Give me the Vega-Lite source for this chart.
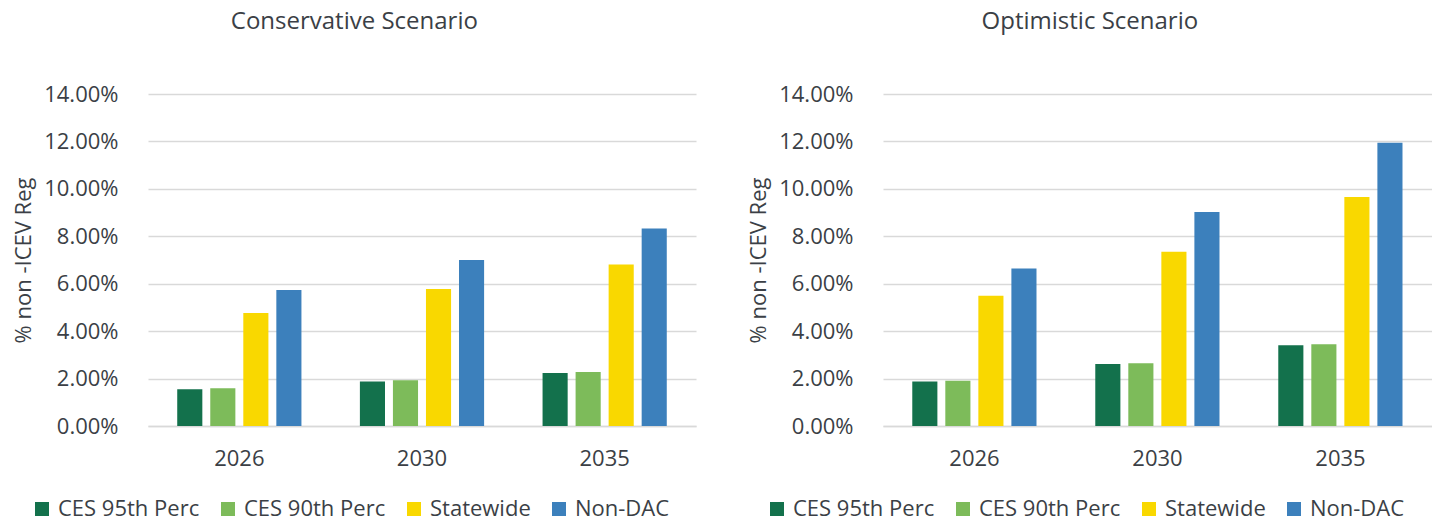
{
  "$schema": "https://vega.github.io/schema/vega-lite/v6.json",
  "padding": {"left": 12, "top": 10, "right": 0, "bottom": 0},
  "background": "white",
  "config": {
    "font": "Open Sans",
    "view": {"stroke": null},
    "axis": {"labelColor": "#3b3f46", "titleColor": "#3b3f46", "labelFont": "Open Sans", "titleFont": "Open Sans"},
    "title": {"color": "#3b3f46", "font": "Open Sans"},
    "legend": {"labelColor": "#3b3f46", "labelFont": "Open Sans", "padding": 0}
  },
  "datasets": {
    "d": [
      {"scenario": "Conservative", "year": "2026", "group": "CES 95th Perc", "value": 0.0155},
      {"scenario": "Conservative", "year": "2026", "group": "CES 90th Perc", "value": 0.0159},
      {"scenario": "Conservative", "year": "2026", "group": "Statewide", "value": 0.0477},
      {"scenario": "Conservative", "year": "2026", "group": "Non-DAC", "value": 0.0574},
      {"scenario": "Conservative", "year": "2030", "group": "CES 95th Perc", "value": 0.0188},
      {"scenario": "Conservative", "year": "2030", "group": "CES 90th Perc", "value": 0.0193},
      {"scenario": "Conservative", "year": "2030", "group": "Statewide", "value": 0.0578},
      {"scenario": "Conservative", "year": "2030", "group": "Non-DAC", "value": 0.0700},
      {"scenario": "Conservative", "year": "2035", "group": "CES 95th Perc", "value": 0.0224},
      {"scenario": "Conservative", "year": "2035", "group": "CES 90th Perc", "value": 0.0228},
      {"scenario": "Conservative", "year": "2035", "group": "Statewide", "value": 0.0681},
      {"scenario": "Conservative", "year": "2035", "group": "Non-DAC", "value": 0.0833},
      {"scenario": "Optimistic", "year": "2026", "group": "CES 95th Perc", "value": 0.0188},
      {"scenario": "Optimistic", "year": "2026", "group": "CES 90th Perc", "value": 0.0191},
      {"scenario": "Optimistic", "year": "2026", "group": "Statewide", "value": 0.0549},
      {"scenario": "Optimistic", "year": "2026", "group": "Non-DAC", "value": 0.0664},
      {"scenario": "Optimistic", "year": "2030", "group": "CES 95th Perc", "value": 0.0261},
      {"scenario": "Optimistic", "year": "2030", "group": "CES 90th Perc", "value": 0.0265},
      {"scenario": "Optimistic", "year": "2030", "group": "Statewide", "value": 0.0735},
      {"scenario": "Optimistic", "year": "2030", "group": "Non-DAC", "value": 0.0902},
      {"scenario": "Optimistic", "year": "2035", "group": "CES 95th Perc", "value": 0.0340},
      {"scenario": "Optimistic", "year": "2035", "group": "CES 90th Perc", "value": 0.0345},
      {"scenario": "Optimistic", "year": "2035", "group": "Statewide", "value": 0.0966},
      {"scenario": "Optimistic", "year": "2035", "group": "Non-DAC", "value": 0.1194}
    ]
  },
  "resolve": {"legend": {"color": "independent"}},
  "spacing": 51,
  "hconcat": [
    {
      "data": {"name": "d"},
      "transform": [{"filter": "datum.scenario === 'Conservative'"}],
      "width": 548,
      "height": 332,
      "title": {"text": "Conservative Scenario", "anchor": "middle", "frame": "bounds", "fontSize": 24, "fontWeight": "normal", "offset": 49},
      "mark": {"type": "bar"},
      "encoding": {
        "x": {"field": "year", "type": "nominal", "title": null,
              "scale": {"paddingInner": 0.32, "paddingOuter": 0.16},
              "axis": {"labelAngle": 0, "labelFontSize": 22, "labelPadding": 22, "ticks": false, "tickSize": 0, "domainColor": "#d9d9d9", "domainWidth": 1.5, "grid": false}},
        "xOffset": {"field": "group", "type": "nominal",
                    "scale": {"domain": ["CES 95th Perc", "CES 90th Perc", "Statewide", "Non-DAC"], "paddingInner": 0.24, "paddingOuter": 0}},
        "y": {"field": "value", "type": "quantitative", "title": "% non -ICEV Reg",
              "scale": {"domain": [0, 0.14]},
              "axis": {"format": ".2%", "values": [0, 0.02, 0.04, 0.06, 0.08, 0.1, 0.12, 0.14], "labelFontSize": 22, "labelPadding": 30, "ticks": false, "tickSize": 0, "domain": false, "gridColor": "#d9d9d9", "gridWidth": 1.5, "titleFontSize": 22, "titleFontWeight": "normal", "titlePadding": 8}},
        "color": {"field": "group", "type": "nominal",
                  "scale": {"domain": ["CES 95th Perc", "CES 90th Perc", "Statewide", "Non-DAC"], "range": ["#13714c", "#7dbb5a", "#f9d800", "#3c80bc"]},
                  "legend": {"title": null, "orient": "none", "legendX": -117, "legendY": 404, "direction": "horizontal", "symbolType": "square", "symbolSize": 196, "symbolStrokeWidth": 0, "labelFontSize": 22, "labelOffset": 5, "columnPadding": 17, "labelLimit": 200}}
      }
    },
    {
      "data": {"name": "d"},
      "transform": [{"filter": "datum.scenario === 'Optimistic'"}],
      "width": 549,
      "height": 332,
      "title": {"text": "Optimistic Scenario", "anchor": "middle", "frame": "bounds", "fontSize": 24, "fontWeight": "normal", "offset": 49},
      "mark": {"type": "bar"},
      "encoding": {
        "x": {"field": "year", "type": "nominal", "title": null,
              "scale": {"paddingInner": 0.32, "paddingOuter": 0.16},
              "axis": {"labelAngle": 0, "labelFontSize": 22, "labelPadding": 22, "ticks": false, "tickSize": 0, "domainColor": "#d9d9d9", "domainWidth": 1.5, "grid": false}},
        "xOffset": {"field": "group", "type": "nominal",
                    "scale": {"domain": ["CES 95th Perc", "CES 90th Perc", "Statewide", "Non-DAC"], "paddingInner": 0.24, "paddingOuter": 0}},
        "y": {"field": "value", "type": "quantitative", "title": "% non -ICEV Reg",
              "scale": {"domain": [0, 0.14]},
              "axis": {"format": ".2%", "values": [0, 0.02, 0.04, 0.06, 0.08, 0.1, 0.12, 0.14], "labelFontSize": 22, "labelPadding": 30, "ticks": false, "tickSize": 0, "domain": false, "gridColor": "#d9d9d9", "gridWidth": 1.5, "titleFontSize": 22, "titleFontWeight": "normal", "titlePadding": 8}},
        "color": {"field": "group", "type": "nominal",
                  "scale": {"domain": ["CES 95th Perc", "CES 90th Perc", "Statewide", "Non-DAC"], "range": ["#13714c", "#7dbb5a", "#f9d800", "#3c80bc"]},
                  "legend": {"title": null, "orient": "none", "legendX": -117, "legendY": 404, "direction": "horizontal", "symbolType": "square", "symbolSize": 196, "symbolStrokeWidth": 0, "labelFontSize": 22, "labelOffset": 5, "columnPadding": 17, "labelLimit": 200}}
      }
    }
  ]
}
